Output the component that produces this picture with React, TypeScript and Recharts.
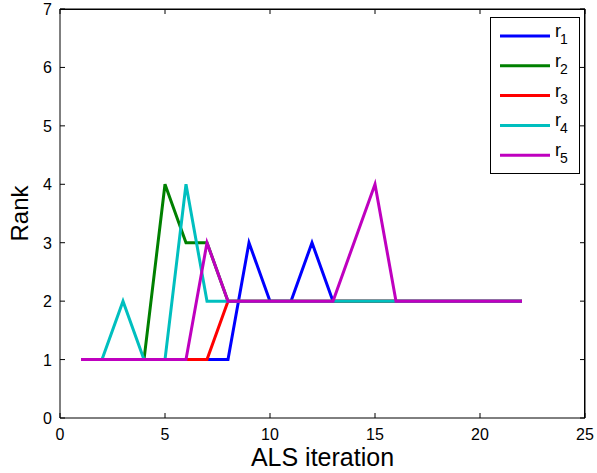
import { LineChart, Line, XAxis, YAxis, ReferenceLine } from "recharts";

const iterations = [1, 2, 3, 4, 5, 6, 7, 8, 9, 10, 11, 12, 13, 14, 15, 16, 17, 18, 19, 20, 21, 22];
const r1 = [1, 1, 1, 1, 1, 1, 1, 1, 3, 2, 2, 3, 2, 2, 2, 2, 2, 2, 2, 2, 2, 2];
const r2 = [1, 1, 1, 1, 4, 3, 3, 2, 2, 2, 2, 2, 2, 2, 2, 2, 2, 2, 2, 2, 2, 2];
const r3 = [1, 1, 1, 1, 1, 1, 1, 2, 2, 2, 2, 2, 2, 2, 2, 2, 2, 2, 2, 2, 2, 2];
const r4 = [1, 1, 2, 1, 1, 4, 2, 2, 2, 2, 2, 2, 2, 2, 2, 2, 2, 2, 2, 2, 2, 2];
const r5 = [1, 1, 1, 1, 1, 1, 3, 2, 2, 2, 2, 2, 2, 3, 4, 2, 2, 2, 2, 2, 2, 2];

const xTicks = [0, 5, 10, 15, 20, 25];
const yTicks = [0, 1, 2, 3, 4, 5, 6, 7];

const SERIES = [
  { key: "r1", sub: "1", color: "#0000FF", values: r1 },
  { key: "r2", sub: "2", color: "#008000", values: r2 },
  { key: "r3", sub: "3", color: "#FF0000", values: r3 },
  { key: "r4", sub: "4", color: "#00BFBF", values: r4 },
  { key: "r5", sub: "5", color: "#BF00BF", values: r5 },
];

const FONT = "'Liberation Sans', Arial, Helvetica, sans-serif";
const TICK_LEN = 5;
const W = 597;
const H = 473;
const MARGIN = { top: 9, right: 12, left: 0, bottom: 0 };
const Y_AXIS_W = 60;
const X_AXIS_H = 55;

const data = iterations.map((it, i) => {
  const row: Record<string, number> = { iter: it };
  SERIES.forEach((s) => {
    row[s.key] = s.values[i];
  });
  return row;
});

// MATLAB style ticks: short marks pointing into the plot box
const makeTick = (side: "bottom" | "left") => (props: any) => {
  const { x, y, payload } = props;
  if (side === "bottom") {
    return (
      <g>
        <line x1={x} y1={y} x2={x} y2={y - TICK_LEN} stroke="#000" />
        <text x={x} y={y + 22} textAnchor="middle" fontSize={16} fontFamily={FONT} fill="#000">
          {payload.value}
        </text>
      </g>
    );
  }
  return (
    <g>
      <line x1={x} y1={y} x2={x + TICK_LEN} y2={y} stroke="#000" />
      <text x={x - 8} y={y + 6} textAnchor="end" fontSize={16} fontFamily={FONT} fill="#000">
        {payload.value}
      </text>
    </g>
  );
};

// tick marks on the top and right edges of the box
const TopTick = (p: any) => {
  const top = Math.min(p.y1, p.y2);
  return <line x1={p.x1} y1={top} x2={p.x1} y2={top + TICK_LEN} stroke="#000" />;
};
const RightTick = (p: any) => {
  const right = Math.max(p.x1, p.x2);
  return <line x1={right} y1={p.y1} x2={right - TICK_LEN} y2={p.y1} stroke="#000" />;
};

const RankLabel = (props: any) => {
  const { viewBox } = props;
  const cy = viewBox.y + viewBox.height / 2;
  return (
    <text
      x={28}
      y={cy}
      transform={`rotate(-90, 28, ${cy})`}
      textAnchor="middle"
      fontSize={24}
      fontFamily={FONT}
      fill="#000"
    >
      Rank
    </text>
  );
};

const IterLabel = (props: any) => {
  const { viewBox } = props;
  const cx = viewBox.x + viewBox.width / 2;
  return (
    <text x={cx} y={466} textAnchor="middle" fontSize={25} fontFamily={FONT} fill="#000">
      ALS iteration
    </text>
  );
};

// top and right edges of the axes box, as a plain bordered div over the plot area
function BoxEdges() {
  const left = MARGIN.left + Y_AXIS_W;
  const right = W - MARGIN.right;
  const top = MARGIN.top;
  const bottom = H - MARGIN.bottom - X_AXIS_H;
  return (
    <div
      style={{
        position: "absolute",
        left: left,
        top: top - 0.5,
        width: right - left,
        height: bottom - top,
        borderTop: "1px solid #000",
        borderRight: "1px solid #000",
        boxSizing: "border-box",
        pointerEvents: "none",
      }}
    />
  );
}

function LegendBox() {
  return (
    <svg width={90} height={157} style={{ position: "absolute", left: 490, top: 17 }}>
      <rect x={0.5} y={0.5} width={89} height={156} fill="#fff" stroke="#000" />
      {SERIES.map((s, i) => {
        const y = 19 + i * 29.8;
        return (
          <g key={s.key}>
            <line x1={10} y1={y} x2={60} y2={y} stroke={s.color} strokeWidth={3} />
            <text x={65} y={y + 1} fontSize={18} fontFamily={FONT} fill="#000">
              r
            </text>
            <text x={70} y={y + 8} fontSize={14} fontFamily={FONT} fill="#000">
              {s.sub}
            </text>
          </g>
        );
      })}
    </svg>
  );
}

export default function App() {
  return (
    <div style={{ position: "absolute", left: 0, top: 0, width: W, height: H, background: "#fff" }}>
      <LineChart width={W} height={H} data={data} margin={MARGIN}>
        <XAxis
          dataKey="iter"
          type="number"
          domain={[0, 25]}
          ticks={xTicks}
          height={X_AXIS_H}
          tickSize={0}
          tickMargin={0}
          tickLine={false}
          axisLine={{ stroke: "#000" }}
          tick={makeTick("bottom")}
          label={<IterLabel />}
        />
        <YAxis
          type="number"
          domain={[0, 7]}
          ticks={yTicks}
          width={Y_AXIS_W}
          tickSize={0}
          tickMargin={0}
          tickLine={false}
          axisLine={{ stroke: "#000" }}
          tick={makeTick("left")}
          label={<RankLabel />}
        />
        <ReferenceLine y={7} stroke="#000" strokeWidth={1} ifOverflow="visible" />
        <ReferenceLine x={25} stroke="#000" strokeWidth={1} ifOverflow="visible" />
        {xTicks.map((t) => (
          <ReferenceLine key={"tx" + t} x={t} ifOverflow="visible" shape={TopTick} />
        ))}
        {yTicks.map((t) => (
          <ReferenceLine key={"ty" + t} y={t} ifOverflow="visible" shape={RightTick} />
        ))}
        {SERIES.map((s) => (
          <Line
            key={s.key}
            type="linear"
            dataKey={s.key}
            stroke={s.color}
            strokeWidth={3}
            dot={false}
            isAnimationActive={false}
          />
        ))}
      </LineChart>
      <BoxEdges />
      <LegendBox />
    </div>
  );
}
